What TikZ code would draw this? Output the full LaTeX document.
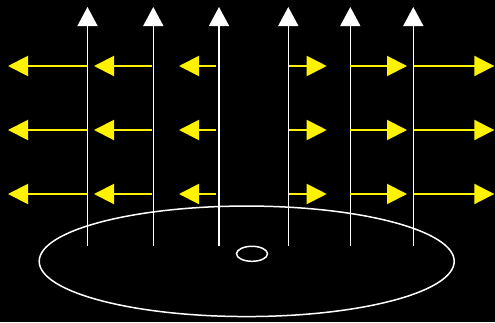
\documentclass[tikz,border=0pt]{standalone}
\usetikzlibrary{arrows.meta,shapes.geometric}
\tikzset{
  field/.style={white, line width=1.5pt, -{Triangle[length=19pt,width=20pt]}},
  push/.style={yellow, line width=2pt, -{Triangle[length=20pt,width=20pt]}},
  disc/.style={draw=white, line width=1.5pt, ellipse, inner sep=0pt}
}
\begin{document}
\begin{tikzpicture}[x=1pt,y=-1pt]
  % black backdrop, fixes the page size
  \fill[black] (0,0) rectangle (495,322);
  \useasboundingbox (0,0) rectangle (495,322);

  % the plate and the small opening in it
  \node[disc, minimum width=415pt, minimum height=110.5pt] (plate) at (246.7,261.3) {};
  \node[disc, minimum width=31pt, minimum height=15pt] (hole) at (252,253.8) {};

  % vertical field lines
  \foreach \i/\x in {1/87.5,2/153.3,3/219,4/288.3,5/350.3,6/413.3}{
    \coordinate (b\i) at (\x,246);
    \coordinate (t\i) at (\x,7);
    \draw[field] (b\i) -- (t\i);
  }

  % horizontal push arrows, three rows
  \foreach \r/\y in {1/66,2/130,3/194}{
    \coordinate (s1\r) at (87,\y);   \coordinate (e1\r) at (8,\y);
    \coordinate (s2\r) at (151.5,\y);\coordinate (e2\r) at (94,\y);
    \coordinate (s3\r) at (215.5,\y);\coordinate (e3\r) at (179,\y);
    \coordinate (s4\r) at (289.3,\y);\coordinate (e4\r) at (326.7,\y);
    \coordinate (s5\r) at (350.3,\y);\coordinate (e5\r) at (407,\y);
    \coordinate (s6\r) at (414.3,\y);\coordinate (e6\r) at (494.3,\y);
    \foreach \g in {1,...,6}{
      \draw[push] (s\g\r) -- (e\g\r);
    }
  }
\end{tikzpicture}
\end{document}
